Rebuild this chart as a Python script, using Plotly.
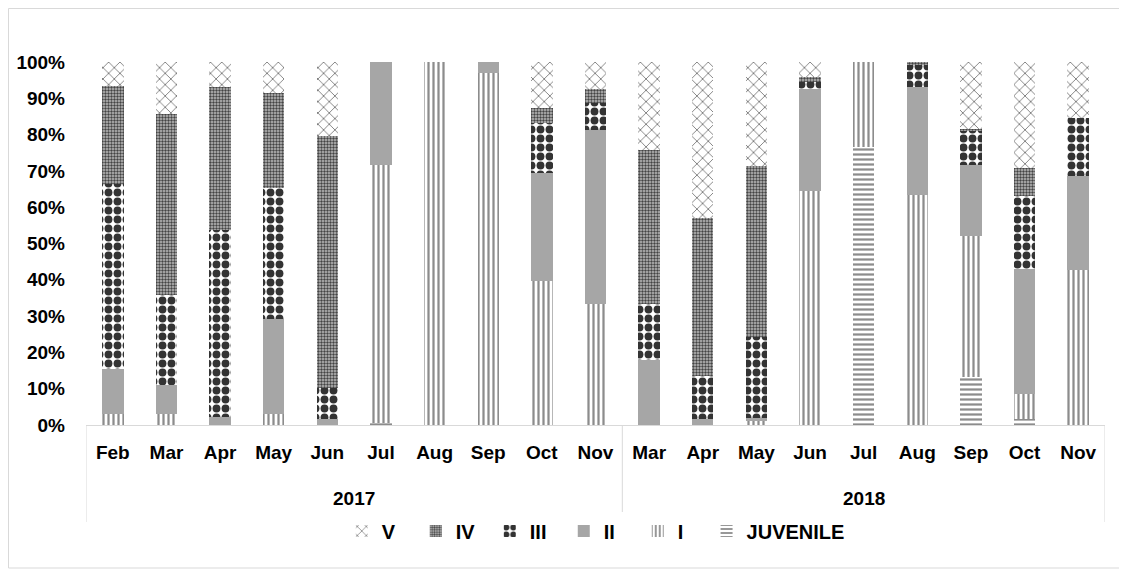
import plotly.graph_objects as go

# categories
years = ['2017'] * 10 + ['2018'] * 9
months = ['Feb', 'Mar', 'Apr', 'May', 'Jun', 'Jul', 'Aug', 'Sep', 'Oct', 'Nov',
          'Mar', 'Apr', 'May', 'Jun', 'Jul', 'Aug', 'Sep', 'Oct', 'Nov']

# stage proportions (%)
juvenile = [0, 0, 0, 0, 0, 0.5, 0, 0, 0, 0,
            0, 0, 0, 0, 76.6, 0, 13.1, 1.6, 0]
stage1 = [3.0, 3.0, 0, 3.0, 0, 71.2, 100, 96.9, 39.6, 33.2,
          0, 0, 1.2, 64.4, 23.4, 63.3, 39.1, 6.9, 42.7]
stage2 = [12.4, 8.1, 2.3, 26.1, 1.6, 28.3, 0, 3.1, 29.8, 48.1,
          17.9, 1.6, 0.7, 28.2, 0, 29.9, 19.5, 34.4, 26.0]
stage3 = [51.0, 24.7, 51.4, 36.2, 8.7, 0, 0, 0, 13.8, 7.3,
          15.5, 11.9, 22.4, 2.0, 0, 5.9, 9.3, 20.1, 15.8]
stage4 = [27.0, 49.9, 39.5, 26.1, 69.4, 0, 0, 0, 4.1, 3.9,
          42.4, 43.4, 47.1, 1.4, 0, 0.9, 0.5, 7.8, 0]
stage5 = [6.6, 14.3, 6.8, 8.6, 20.3, 0, 0, 0, 12.7, 7.5,
          24.2, 43.1, 28.6, 4.0, 0, 0, 18.5, 29.2, 15.5]

idx = list(range(len(months)))

series = [
    ('JUVENILE', juvenile, dict(shape='-', fgcolor='#8c8c8c', bgcolor='white', size=5, solidity=0.45, fgopacity=1), 'white'),
    ('I', stage1, dict(shape='|', fgcolor='#8c8c8c', bgcolor='white', size=5, solidity=0.45, fgopacity=1), 'white'),
    ('II', stage2, None, '#a6a6a6'),
    ('III', stage3, dict(shape='.', fgcolor='#333333', bgcolor='white', size=9, solidity=0.6, fgopacity=1), 'white'),
    ('IV', stage4, dict(shape='.', fgcolor='#444444', bgcolor='#bfbfbf', size=3, solidity=0.5, fgopacity=1), '#bfbfbf'),
    ('V', stage5, dict(shape='x', fgcolor='#808080', bgcolor='white', size=8, solidity=0.22, fgopacity=1), 'white'),
]

fig = go.Figure()
for name, vals, pat, col in series:
    marker = dict(color=col, line=dict(width=0))
    if pat:
        marker['pattern'] = pat
    # JUVENILE gets its own legend box so its long label is not clipped
    lg = 'legend2' if name == 'JUVENILE' else 'legend'
    fig.add_trace(go.Bar(x=idx, y=[v / 100 for v in vals], name=name, marker=marker, legend=lg))

W, H = 1019.0, 363.0  # plot area px
L, T = 78, 54
shapes = [dict(type='rect', xref='paper', yref='paper',
               x0=(0.5 - L) / W, x1=(1118 - L) / W, y0=-143 / H, y1=(H + T - 0.5) / H,
               line=dict(color='#d9d9d9', width=1))]
# group dividers under the axis
bounds = [-0.5]
for i in range(1, len(years)):
    if years[i] != years[i - 1]:
        bounds.append(i - 0.5)
bounds.append(len(years) - 0.5)
for b in bounds:
    shapes.append(dict(type='line', xref='x', yref='paper', x0=b, x1=b, y0=0, y1=-97 / H,
                       line=dict(color='#d9d9d9', width=1)))

annotations = []
for yr in sorted(set(years)):
    pos = [i for i, y in enumerate(years) if y == yr]
    annotations.append(dict(x=sum(pos) / len(pos), y=-73 / H, xref='x', yref='paper',
                            text=yr, showarrow=False, yanchor='middle',
                            font=dict(size=19, weight='bold')))

fig.update_layout(
    barmode='stack',
    bargap=0.6,
    width=1119, height=561,
    margin=dict(l=L, r=22, t=T, b=144, autoexpand=False),
    paper_bgcolor='white',
    plot_bgcolor='white',
    font=dict(family='Liberation Sans, Arial', size=19, color='black', weight='bold'),
    showlegend=True,
    legend=dict(orientation='h', x=0.251, xanchor='left', y=-106 / H, yanchor='middle',
                traceorder='reversed', entrywidth=29, font=dict(size=20, weight='bold')),
    legend2=dict(orientation='h', x=0.609, xanchor='left', y=-106 / H, yanchor='middle',
                 font=dict(size=20, weight='bold')),
    yaxis=dict(range=[0, 1], tickformat='.0%', dtick=0.1, showgrid=False,
               zeroline=False, showline=False, ticks='', ticklabelstandoff=20,
               automargin=False, tickfont=dict(size=19, weight='bold')),
    xaxis=dict(range=[-0.5, len(months) - 0.5], tickvals=idx, ticktext=months,
               showline=True, linecolor='#d9d9d9', linewidth=1, showgrid=False,
               zeroline=False, ticks='', ticklabelstandoff=10, automargin=False,
               tickfont=dict(size=19, weight='bold')),
    shapes=shapes,
    annotations=annotations,
)

fig.write_html("out.html")
